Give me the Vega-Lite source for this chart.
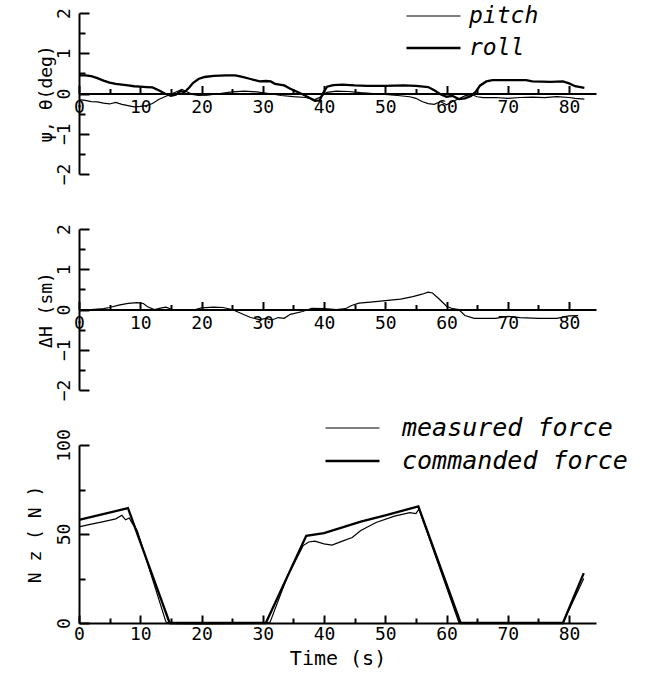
{
  "$schema": "https://vega.github.io/schema/vega-lite/v6.json",
  "background": "white",
  "padding": {"left": 26, "top": 4, "right": 0, "bottom": 0},
  "spacing": 55,
  "bounds": "flush",
  "resolve": {"scale": {"strokeWidth": "independent"}, "legend": {"strokeWidth": "independent"}},
  "datasets": {
    "attitude": [
      {"series":"pitch","t":0,"v":-0.15},{"series":"pitch","t":1,"v":-0.17},{"series":"pitch","t":2,"v":-0.2},{"series":"pitch","t":3,"v":-0.21},{"series":"pitch","t":4,"v":-0.24},{"series":"pitch","t":5,"v":-0.26},{"series":"pitch","t":6,"v":-0.22},{"series":"pitch","t":7,"v":-0.27},{"series":"pitch","t":8,"v":-0.3},{"series":"pitch","t":9,"v":-0.33},{"series":"pitch","t":10,"v":-0.32},{"series":"pitch","t":11,"v":-0.3},{"series":"pitch","t":12,"v":-0.25},{"series":"pitch","t":13,"v":-0.15},{"series":"pitch","t":14,"v":-0.08},{"series":"pitch","t":15,"v":-0.02},{"series":"pitch","t":16,"v":0.05},{"series":"pitch","t":16.8,"v":0.1},{"series":"pitch","t":17.5,"v":0.05},{"series":"pitch","t":18.5,"v":-0.02},{"series":"pitch","t":19.5,"v":-0.05},{"series":"pitch","t":21,"v":-0.04},{"series":"pitch","t":23,"v":0.0},{"series":"pitch","t":25,"v":0.04},{"series":"pitch","t":27,"v":0.06},{"series":"pitch","t":29,"v":0.04},{"series":"pitch","t":31,"v":0.0},{"series":"pitch","t":33,"v":-0.05},{"series":"pitch","t":35,"v":-0.08},{"series":"pitch","t":37,"v":-0.1},{"series":"pitch","t":38.5,"v":-0.15},{"series":"pitch","t":39.5,"v":-0.08},{"series":"pitch","t":40.5,"v":0.03},{"series":"pitch","t":42,"v":0.06},{"series":"pitch","t":44,"v":0.05},{"series":"pitch","t":46,"v":0.02},{"series":"pitch","t":48,"v":0.0},{"series":"pitch","t":50,"v":-0.02},{"series":"pitch","t":52,"v":-0.05},{"series":"pitch","t":54,"v":-0.08},{"series":"pitch","t":55,"v":-0.12},{"series":"pitch","t":56,"v":-0.2},{"series":"pitch","t":57,"v":-0.25},{"series":"pitch","t":58,"v":-0.27},{"series":"pitch","t":59,"v":-0.2},{"series":"pitch","t":60,"v":-0.28},{"series":"pitch","t":61,"v":-0.2},{"series":"pitch","t":62,"v":-0.13},{"series":"pitch","t":63,"v":-0.06},{"series":"pitch","t":64,"v":-0.02},{"series":"pitch","t":65,"v":-0.08},{"series":"pitch","t":66,"v":-0.1},{"series":"pitch","t":68,"v":-0.1},{"series":"pitch","t":70,"v":-0.12},{"series":"pitch","t":72,"v":-0.1},{"series":"pitch","t":74,"v":-0.09},{"series":"pitch","t":76,"v":-0.1},{"series":"pitch","t":78,"v":-0.08},{"series":"pitch","t":80,"v":-0.1},{"series":"pitch","t":81,"v":-0.12},{"series":"pitch","t":82.5,"v":-0.14},
      {"series":"roll","t":0,"v":0.45},{"series":"roll","t":1,"v":0.45},{"series":"roll","t":2,"v":0.43},{"series":"roll","t":3,"v":0.38},{"series":"roll","t":4,"v":0.32},{"series":"roll","t":5,"v":0.27},{"series":"roll","t":6,"v":0.24},{"series":"roll","t":7,"v":0.22},{"series":"roll","t":8,"v":0.2},{"series":"roll","t":9,"v":0.18},{"series":"roll","t":10,"v":0.17},{"series":"roll","t":11,"v":0.16},{"series":"roll","t":12,"v":0.15},{"series":"roll","t":13,"v":0.08},{"series":"roll","t":14,"v":0.0},{"series":"roll","t":15,"v":-0.06},{"series":"roll","t":15.8,"v":-0.03},{"series":"roll","t":16.6,"v":0.06},{"series":"roll","t":17.2,"v":0.03},{"series":"roll","t":18,"v":0.15},{"series":"roll","t":18.6,"v":0.26},{"series":"roll","t":19.5,"v":0.36},{"series":"roll","t":20.5,"v":0.41},{"series":"roll","t":22,"v":0.44},{"series":"roll","t":24,"v":0.45},{"series":"roll","t":25.5,"v":0.45},{"series":"roll","t":26.5,"v":0.42},{"series":"roll","t":28,"v":0.36},{"series":"roll","t":29.5,"v":0.3},{"series":"roll","t":30.5,"v":0.31},{"series":"roll","t":31.3,"v":0.3},{"series":"roll","t":32,"v":0.24},{"series":"roll","t":33.5,"v":0.2},{"series":"roll","t":34.5,"v":0.12},{"series":"roll","t":35.5,"v":0.05},{"series":"roll","t":36.5,"v":-0.02},{"series":"roll","t":37.5,"v":-0.1},{"series":"roll","t":38.5,"v":-0.18},{"series":"roll","t":39.3,"v":-0.17},{"series":"roll","t":39.8,"v":0.0},{"series":"roll","t":40.5,"v":0.17},{"series":"roll","t":41.5,"v":0.21},{"series":"roll","t":43,"v":0.22},{"series":"roll","t":45,"v":0.2},{"series":"roll","t":47,"v":0.19},{"series":"roll","t":50,"v":0.19},{"series":"roll","t":53,"v":0.2},{"series":"roll","t":55,"v":0.19},{"series":"roll","t":57,"v":0.16},{"series":"roll","t":58,"v":0.08},{"series":"roll","t":59,"v":-0.02},{"series":"roll","t":60,"v":-0.08},{"series":"roll","t":61,"v":-0.06},{"series":"roll","t":62,"v":-0.14},{"series":"roll","t":63,"v":-0.12},{"series":"roll","t":64,"v":-0.06},{"series":"roll","t":64.8,"v":0.05},{"series":"roll","t":65.5,"v":0.2},{"series":"roll","t":66.5,"v":0.3},{"series":"roll","t":67.5,"v":0.33},{"series":"roll","t":70,"v":0.33},{"series":"roll","t":73,"v":0.33},{"series":"roll","t":74,"v":0.3},{"series":"roll","t":77,"v":0.29},{"series":"roll","t":79,"v":0.3},{"series":"roll","t":80,"v":0.25},{"series":"roll","t":81,"v":0.18},{"series":"roll","t":82.5,"v":0.14}
    ],
    "height": [
      {"t":0,"h":0.0},{"t":2,"h":0.0},{"t":4,"h":0.02},{"t":5,"h":0.05},{"t":6.5,"h":0.11},{"t":8,"h":0.15},{"t":9.5,"h":0.17},{"t":10.5,"h":0.15},{"t":11.2,"h":0.07},{"t":12.3,"h":0.0},{"t":13.5,"h":0.04},{"t":14.2,"h":0.06},{"t":15.2,"h":0.0},{"t":17.5,"h":-0.02},{"t":19,"h":0.0},{"t":20,"h":0.04},{"t":22,"h":0.06},{"t":23.5,"h":0.05},{"t":25,"h":0.0},{"t":26.5,"h":-0.1},{"t":28,"h":-0.2},{"t":29.5,"h":-0.25},{"t":30.5,"h":-0.22},{"t":31.5,"h":-0.26},{"t":32.5,"h":-0.2},{"t":33.5,"h":-0.22},{"t":34.5,"h":-0.12},{"t":36.5,"h":-0.05},{"t":38,"h":0.03},{"t":40,"h":0.02},{"t":42,"h":0.0},{"t":43.5,"h":0.02},{"t":44.5,"h":0.1},{"t":45.7,"h":0.16},{"t":48,"h":0.19},{"t":50,"h":0.22},{"t":52.5,"h":0.26},{"t":54.5,"h":0.32},{"t":56,"h":0.38},{"t":57,"h":0.43},{"t":57.7,"h":0.41},{"t":58.8,"h":0.26},{"t":60,"h":0.08},{"t":61,"h":0.02},{"t":62,"h":0.0},{"t":63,"h":-0.15},{"t":64.5,"h":-0.22},{"t":66,"h":-0.22},{"t":68,"h":-0.22},{"t":70,"h":-0.17},{"t":72,"h":-0.2},{"t":75,"h":-0.22},{"t":78,"h":-0.22},{"t":80,"h":-0.16},{"t":81.5,"h":-0.15}
    ],
    "force": [
      {"series":"commanded force","t":0,"n":58},{"series":"commanded force","t":8,"n":64.5},{"series":"commanded force","t":14.8,"n":0},{"series":"commanded force","t":30.5,"n":0},{"series":"commanded force","t":37.1,"n":49},{"series":"commanded force","t":40,"n":50.5},{"series":"commanded force","t":46,"n":57},{"series":"commanded force","t":50,"n":60.5},{"series":"commanded force","t":55.4,"n":65.5},{"series":"commanded force","t":62.3,"n":0},{"series":"commanded force","t":79,"n":0},{"series":"commanded force","t":82.4,"n":28},
      {"series":"measured force","t":0,"n":54},{"series":"measured force","t":2,"n":55.5},{"series":"measured force","t":4,"n":57},{"series":"measured force","t":6,"n":58.5},{"series":"measured force","t":7,"n":60.5},{"series":"measured force","t":7.6,"n":58},{"series":"measured force","t":8.2,"n":59},{"series":"measured force","t":8.7,"n":56},{"series":"measured force","t":9.5,"n":52},{"series":"measured force","t":14.2,"n":0.5},{"series":"measured force","t":15,"n":-0.3},{"series":"measured force","t":20,"n":-0.5},{"series":"measured force","t":25,"n":-0.3},{"series":"measured force","t":30.5,"n":-0.2},{"series":"measured force","t":31.2,"n":0.5},{"series":"measured force","t":34,"n":26},{"series":"measured force","t":36.6,"n":43.5},{"series":"measured force","t":37.5,"n":45.5},{"series":"measured force","t":38.5,"n":46},{"series":"measured force","t":40,"n":44.5},{"series":"measured force","t":41.3,"n":43.8},{"series":"measured force","t":43,"n":46},{"series":"measured force","t":44.6,"n":48},{"series":"measured force","t":46,"n":52},{"series":"measured force","t":48.5,"n":56.5},{"series":"measured force","t":51.5,"n":60},{"series":"measured force","t":54,"n":62},{"series":"measured force","t":55,"n":61.5},{"series":"measured force","t":55.5,"n":64},{"series":"measured force","t":62,"n":0.5},{"series":"measured force","t":63,"n":0},{"series":"measured force","t":79,"n":0},{"series":"measured force","t":82.4,"n":25}
    ]
  },
  "vconcat": [
    {
      "width": 517,
      "height": 161,
      "layer": [
        {
          "data": {"name": "attitude"},
          "mark": {"type": "line", "color": "black"},
          "encoding": {
            "x": {"field": "t", "type": "quantitative", "scale": {"domain": [0, 84.4], "nice": false, "zero": false},
              "axis": {"orient": "bottom", "offset": -80.5, "values": [0,10,20,30,40,50,60,70,80], "tickSize": -8, "labelPadding": 13, "title": null}},
            "y": {"field": "v", "type": "quantitative", "scale": {"domain": [-2, 2], "nice": false},
              "axis": {"orient": "left", "values": [-2,-1,0,1,2], "tickSize": -10, "labelAngle": -90, "labelAlign": "center", "labelBaseline": "alphabetic", "labelPadding": 20, "title": "ψ, θ(deg)", "titlePadding": 0}},
            "strokeWidth": {"field": "series", "type": "ordinal", "scale": {"domain": ["pitch", "roll"], "range": [1.2, 2.3]},
              "legend": {"orient": "none", "legendX": 343, "legendY": -8.5, "direction": "vertical", "title": null, "symbolType": "M-3,0H3", "symbolSize": 324, "symbolStrokeColor": "black", "labelFontSize": 23, "labelOffset": 24, "rowPadding": 8, "padding": 0}}
          }
        },
        {
          "data": {"name": "attitude"},
          "mark": {"type": "line", "strokeOpacity": 0},
          "encoding": {
            "x": {"field": "t", "type": "quantitative", "axis": {"orient": "bottom", "offset": -80.5, "values": [5,15,25,35,45,55,65,75], "tickSize": -5, "labels": false, "domain": false, "title": null}},
            "y": {"field": "v", "type": "quantitative", "axis": {"orient": "left", "values": [-1.5,-0.5,0.5,1.5], "tickSize": -6, "labels": false, "domain": false, "title": null}},
            "detail": {"field": "series"}
          }
        }
      ],
      "resolve": {"axis": {"x": "independent", "y": "independent"}}
    },
    {
      "width": 517,
      "height": 161,
      "layer": [
        {
          "data": {"name": "height"},
          "mark": {"type": "line", "color": "black", "strokeWidth": 1.2},
          "encoding": {
            "x": {"field": "t", "type": "quantitative", "scale": {"domain": [0, 84.4], "nice": false, "zero": false},
              "axis": {"orient": "bottom", "offset": -80.5, "values": [0,10,20,30,40,50,60,70,80], "tickSize": -8, "labelPadding": 13, "title": null}},
            "y": {"field": "h", "type": "quantitative", "scale": {"domain": [-2, 2], "nice": false},
              "axis": {"orient": "left", "values": [-2,-1,0,1,2], "tickSize": -10, "labelAngle": -90, "labelAlign": "center", "labelBaseline": "alphabetic", "labelPadding": 20, "title": "ΔH  (sm)", "titlePadding": 0}}
          }
        },
        {
          "data": {"name": "height"},
          "mark": {"type": "line", "strokeOpacity": 0},
          "encoding": {
            "x": {"field": "t", "type": "quantitative", "axis": {"orient": "bottom", "offset": -80.5, "values": [5,15,25,35,45,55,65,75], "tickSize": -5, "labels": false, "domain": false, "title": null}},
            "y": {"field": "h", "type": "quantitative", "axis": {"orient": "left", "values": [-1.5,-0.5,0.5,1.5], "tickSize": -6, "labels": false, "domain": false, "title": null}}
          }
        }
      ],
      "resolve": {"axis": {"x": "independent", "y": "independent"}}
    },
    {
      "width": 517,
      "height": 178,
      "layer": [
        {
          "data": {"name": "force"},
          "mark": {"type": "line", "color": "black"},
          "encoding": {
            "x": {"field": "t", "type": "quantitative", "scale": {"domain": [0, 84.4], "nice": false, "zero": false},
              "axis": {"orient": "bottom", "values": [0,10,20,30,40,50,60,70,80], "tickSize": -8, "labelPadding": 10, "title": "Time (s)", "titlePadding": 5, "titleFontSize": 20}},
            "y": {"field": "n", "type": "quantitative", "scale": {"domain": [0, 100], "nice": false},
              "axis": {"orient": "left", "values": [0,50,100], "tickSize": -10, "labelAngle": -90, "labelAlign": "center", "labelBaseline": "alphabetic", "labelPadding": 20, "title": "N z ( N )", "titlePadding": 11}},
            "strokeWidth": {"field": "series", "type": "ordinal", "scale": {"domain": ["measured force", "commanded force"], "range": [1.2, 2.3]},
              "legend": {"orient": "none", "legendX": 261, "legendY": -29.5, "direction": "vertical", "title": null, "symbolType": "M-3,0H3", "symbolSize": 324, "symbolStrokeColor": "black", "labelFontSize": 25, "labelOffset": 37, "rowPadding": 7, "padding": 0}}
          }
        },
        {
          "data": {"name": "force"},
          "mark": {"type": "line", "strokeOpacity": 0},
          "encoding": {
            "x": {"field": "t", "type": "quantitative", "axis": {"orient": "bottom", "values": [5,15,25,35,45,55,65,75], "tickSize": -5, "labels": false, "domain": false, "title": null}},
            "y": {"field": "n", "type": "quantitative", "axis": {"orient": "left", "values": [25,75], "tickSize": -6, "labels": false, "domain": false, "title": null}},
            "detail": {"field": "series"}
          }
        }
      ],
      "resolve": {"axis": {"x": "independent", "y": "independent"}}
    }
  ],
  "config": {
    "view": {"stroke": null},
    "axis": {"grid": false, "domainColor": "black", "domainWidth": 2, "tickColor": "black", "tickWidth": 2, "labelColor": "black", "labelFont": "DejaVu Sans Mono", "labelFontSize": 18, "labelFlush": false, "labelOverlap": false, "titleFont": "DejaVu Sans Mono", "titleFontSize": 18, "titleFontWeight": "normal", "titleColor": "black"},
    "legend": {"labelFont": "DejaVu Sans Mono", "labelFontStyle": "italic", "labelColor": "black", "labelLimit": 0}
  }
}
